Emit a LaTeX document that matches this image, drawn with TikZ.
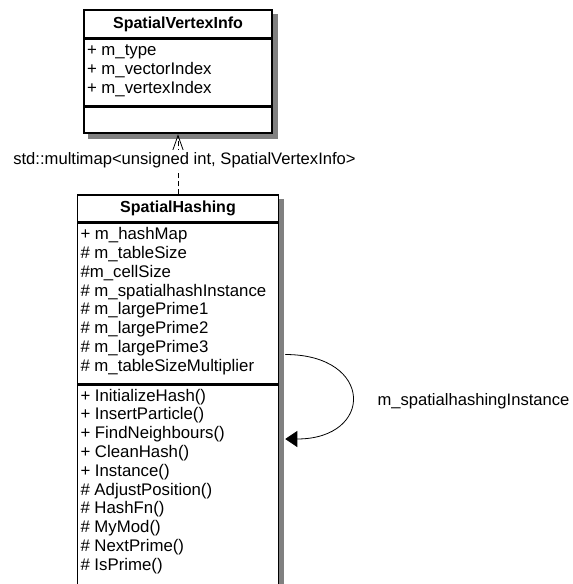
\documentclass[tikz,border=0pt]{standalone}
\usepackage{fontspec}
\setmainfont{Liberation Sans}
\usetikzlibrary{positioning,arrows.meta,backgrounds}

\definecolor{shadowgray}{RGB}{128,128,128}

\tikzset{
    classhead/.style={draw, fill=white, line width=1.5pt, inner sep=0pt,
        font=\fontsize{16}{18.8}\selectfont\bfseries},
    classpart/.style={draw, fill=white, line width=1.5pt, inner sep=3pt,
        font=\fontsize{16.8}{18.8}\selectfont},
    classshadow/.style={fill=shadowgray},
    dependline/.style={line width=0.8pt, dash pattern=on 5pt off 3pt,
        -{Straight Barb[length=17pt,width=12pt]}},
    selfline/.style={line width=0.8pt, -{Triangle[length=12pt,width=16pt]}},
    plainlabel/.style={font=\fontsize{16.6}{18.8}\selectfont}
}

\begin{document}
\begin{tikzpicture}[x=1pt,y=-1pt]
            \useasboundingbox (0,0) rectangle (573,584);
            \clip (0,0) rectangle (573,584);

            % Vertex info class
            \node[classhead, minimum width=188pt, minimum height=28pt] (vtxHead) at (178,24) {SpatialVertexInfo};
            \node[classpart, below=0pt of vtxHead] (vtxAttr) {\parbox[t][60pt][t]{182pt}{\strut
                + m\_type\\
                + m\_vectorIndex\\
                + m\_vertexIndex}};
            \node[classpart, below=0pt of vtxAttr, minimum width=188pt, minimum height=26pt] (vtxMeth) {};

            % Hashing class
            \node[classhead, minimum width=201pt, minimum height=27pt] (hashHead) at (178,208.5) {SpatialHashing};
            \node[classpart, below=0pt of hashHead] (hashAttr) {\parbox[t][154pt][t]{195pt}{\strut
                + m\_hashMap\\
                \# m\_tableSize\\
                \#m\_cellSize\\
                \# m\_spatialhashInstance\\
                \# m\_largePrime1\\
                \# m\_largePrime2\\
                \# m\_largePrime3\\
                \# m\_tableSizeMultiplier}};
            \node[classpart, below=0pt of hashAttr] (hashMeth) {\parbox[t][202pt][t]{195pt}{\strut
                + InitializeHash()\\
                + InsertParticle()\\
                + FindNeighbours()\\
                + CleanHash()\\
                + Instance()\\
                \# AdjustPosition()\\
                \# HashFn()\\
                \# MyMod()\\
                \# NextPrime()\\
                \# IsPrime()}};

            % Shadows
            \begin{scope}[on background layer]
                \fill[classshadow] ([shift={(5pt,-5pt)}]vtxHead.north west) rectangle ([shift={(5pt,-5pt)}]vtxMeth.south east);
                \fill[classshadow] ([shift={(5pt,-5pt)}]hashHead.north west) rectangle ([shift={(5pt,-5pt)}]hashMeth.south east);
            \end{scope}

            % Dependency
            \draw[dependline] (hashHead.north) -- ([yshift=-0.5pt]vtxMeth.south);
            \node[plainlabel, fill=white, inner xsep=1pt, inner ysep=2pt] (depLabel) at (184.5,160) {std::multimap<unsigned int, SpatialVertexInfo>};

            % Self association
            \draw[selfline] ([shift={(6pt,-51pt)}]hashAttr.east) .. controls +(89pt,0pt) and +(89pt,0pt) .. ([shift={(6pt,50pt)}]hashMeth.east);
            \node[plainlabel, anchor=west] (selfLabel) at (374,401) {m\_spatialhashingInstance};
\end{tikzpicture}
\end{document}
